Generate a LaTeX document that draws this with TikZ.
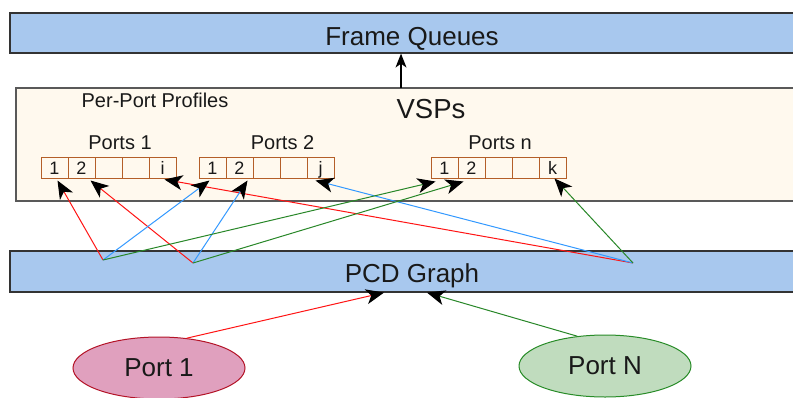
\documentclass[tikz,border=0pt]{standalone}
\usepackage{fontspec}
\setmainfont{Liberation Sans}
\usetikzlibrary{arrows.meta,shapes.geometric}

\definecolor{boxblue}{RGB}{168,200,238}
\definecolor{cream}{RGB}{255,249,238}
\definecolor{cellbrown}{RGB}{180,95,40}
\definecolor{pinkfill}{RGB}{224,160,190}
\definecolor{pinkline}{RGB}{180,20,40}
\definecolor{greenfill}{RGB}{192,220,190}
\definecolor{greenline}{RGB}{40,140,40}
\definecolor{linkred}{RGB}{255,20,20}
\definecolor{linkblue}{RGB}{51,153,255}
\definecolor{linkgreen}{RGB}{40,135,40}
\definecolor{textgray}{RGB}{25,25,25}

\tikzset{
  layer/.style={draw=black!80, fill=boxblue, line width=1.2pt, inner sep=0pt},
  cell/.style={draw=cellbrown, line width=1pt, minimum width=27pt, minimum height=21pt,
    inner sep=0pt, text height=13pt, text depth=0pt, text=textgray, font=\fontsize{18}{18}\selectfont},
  lbl/.style={anchor=base, inner sep=0pt, text=textgray},
  port/.style={ellipse, line width=1pt, minimum width=172pt, minimum height=62pt, inner sep=0pt,
    text=textgray, font=\fontsize{26}{26}\selectfont},
  tip/.style={-{Stealth[black,length=18pt,width=15pt,inset=5pt]}, line width=1pt},
}

\begin{document}
\begin{tikzpicture}[x=1pt,y=-1pt]
    \clip (0,0) rectangle (793,397);
    \fill[white] (0,0) rectangle (793,397);

    %Nodes
    \node[layer, minimum width=804pt, minimum height=40pt] at (412,33) (fq) {};
    \node[lbl, font=\fontsize{26}{26}\selectfont] at (412,45) (fqtext) {Frame Queues};

    \node[draw=black!65, fill=cream, line width=2pt, minimum width=792pt, minimum height=113pt, inner sep=0pt] at (412,144.5) (vsp) {};
    \node[lbl, font=\fontsize{27.5}{27.5}\selectfont] at (431,118) (vsptext) {VSPs};
    \node[lbl, font=\fontsize{20}{20}\selectfont] at (155,107) (profiles) {Per-Port Profiles};

    \node[lbl, font=\fontsize{20}{20}\selectfont] at (120,149) (ports1) {Ports 1};
    \node[lbl, font=\fontsize{20}{20}\selectfont] at (282.5,149) (ports2) {Ports 2};
    \node[lbl, font=\fontsize{20}{20}\selectfont] at (500,149) (portsn) {Ports n};

    \node[cell] at (54.5,167.5) (p1a) {1};
    \node[cell] at (81.5,167.5) (p1b) {2};
    \node[cell] at (108.5,167.5) (p1c) {};
    \node[cell] at (135.5,167.5) (p1d) {};
    \node[cell] at (162.5,167.5) (p1i) {i};

    \node[cell] at (212.5,167.5) (p2a) {1};
    \node[cell] at (239.5,167.5) (p2b) {2};
    \node[cell] at (266.5,167.5) (p2c) {};
    \node[cell] at (293.5,167.5) (p2d) {};
    \node[cell] at (320.5,167.5) (p2j) {j};

    \node[cell] at (444.5,167.5) (pna) {1};
    \node[cell] at (471.5,167.5) (pnb) {2};
    \node[cell] at (498.5,167.5) (pnc) {};
    \node[cell] at (525.5,167.5) (pnd) {};
    \node[cell] at (552.5,167.5) (pnk) {k};

    \node[layer, minimum width=804pt, minimum height=41pt] at (412,271.5) (pcd) {};
    \node[lbl, font=\fontsize{26}{26}\selectfont] at (412,282) (pcdtext) {PCD Graph};

    \node[port, draw=pinkline, fill=pinkfill] at (159,368) (port1) {Port 1};
    \node[port, draw=greenline, fill=greenfill] at (605,366) (portN) {Port N};

    \coordinate (srcA) at (103,260);
    \coordinate (srcB) at (193,263);
    \coordinate (srcC) at (633,263);
    \coordinate (vtop) at (401,88);

    %Lines
    \draw[-{Stealth[black,length=14pt,width=11pt,inset=4pt]}, line width=1.2pt] (vtop) -- (vtop |- fq.south);

    \draw[tip, linkred] (srcA) -- ([xshift=3pt,yshift=-2pt]p1a.south);
    \draw[tip, linkred] (srcB) -- ([xshift=9pt,yshift=-2pt]p1b.south);
    \draw[tip, linkred] (srcC) -- ([xshift=2pt,yshift=-1pt]p1i.south);

    \draw[tip, linkblue] (srcA) -- ([xshift=-3pt,yshift=-2pt]p2a.south);
    \draw[tip, linkblue] (srcB) -- ([xshift=8pt,yshift=-2pt]p2b.south);
    \draw[tip, linkblue] (srcC) -- ([xshift=-5pt,yshift=-2pt]p2j.south);

    \draw[tip, linkgreen] (srcA) -- ([xshift=-9pt,yshift=-3pt]pna.south);
    \draw[tip, linkgreen] (srcB) -- ([xshift=-8pt,yshift=-3pt]pnb.south);
    \draw[tip, linkgreen] (srcC) -- ([xshift=2pt]pnk.south);

    \draw[tip, linkred] (port1.47) -- ([xshift=-28pt]pcd.south);
    \draw[tip, linkgreen] (portN.133) -- ([xshift=15pt]pcd.south);
\end{tikzpicture}
\end{document}
